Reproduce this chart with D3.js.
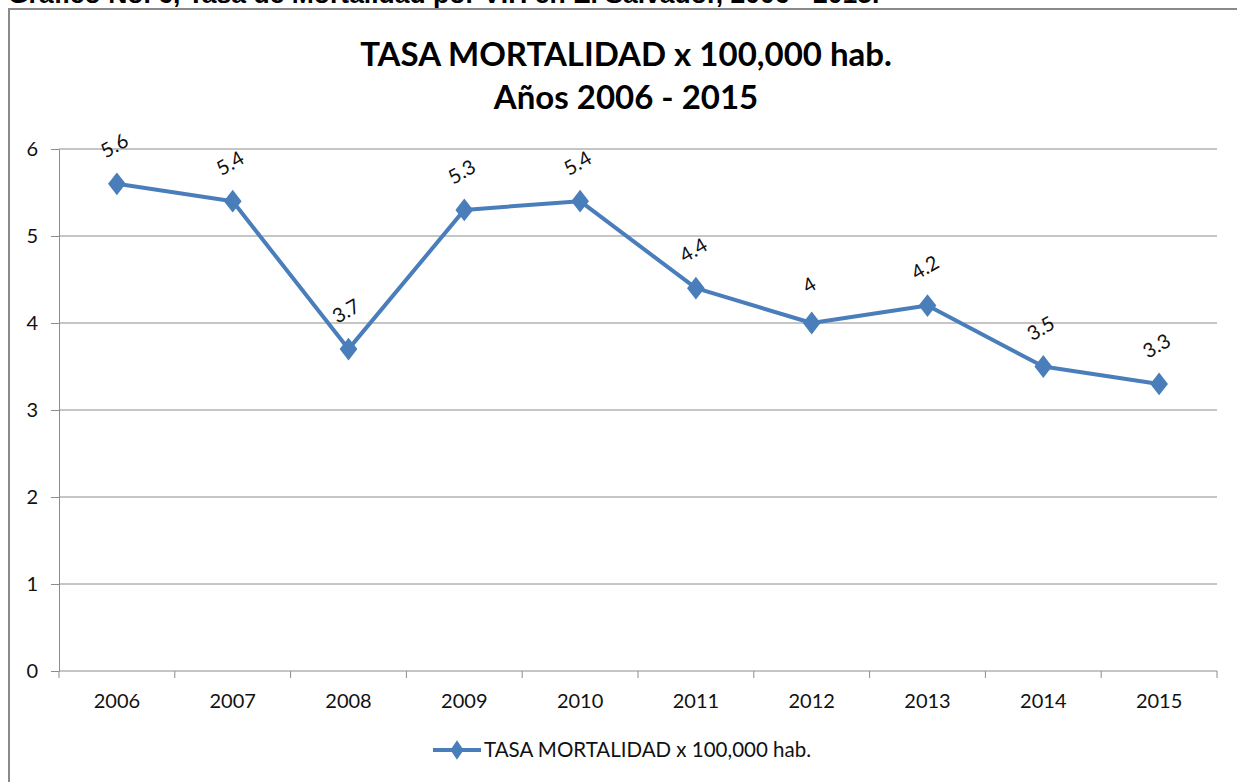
<!DOCTYPE html>
<meta charset="utf-8">
<html>
<head>
<script src="https://cdn.jsdelivr.net/npm/d3@7"></script>
<style>
  body { margin: 0; background: #fff; }
  text { font-family: Lato, "Open Sans", sans-serif; }
  text.caption { font-family: "Liberation Sans", Arial, sans-serif; }
</style>
</head>
<body>
<div id="chart"></div>
<script>
// data
var years = ["2006","2007","2008","2009","2010","2011","2012","2013","2014","2015"];
var rates = [5.6, 5.4, 3.7, 5.3, 5.4, 4.4, 4, 4.2, 3.5, 3.3];
var yTicks = [0, 1, 2, 3, 4, 5, 6];
var seriesName = "TASA MORTALIDAD x 100,000 hab.";

var W = 1237, H = 782;
var blue = "#4a7ebb", grid = "#8c8c8c";

var svg = d3.select("#chart").append("svg")
    .attr("width", W).attr("height", H);

// caption cut off at the top
svg.append("text")
    .attr("class", "caption")
    .attr("x", 8).attr("y", 3)
    .attr("font-weight", "bold").attr("font-size", 26.5)
    .text("Gráfico No. 6, Tasa de Mortalidad por VIH en El Salvador, 2006 - 2015.");

// chart border
svg.append("rect")
    .attr("x", 9).attr("y", 9)
    .attr("width", W + 20).attr("height", H + 20)
    .attr("fill", "none").attr("stroke", "#8a8a8a").attr("stroke-width", 2);

// title
var title = svg.append("g").attr("font-weight", "bold").attr("font-size", 33)
    .attr("text-anchor", "middle").attr("fill", "#000");
title.append("text").attr("x", 626).attr("y", 66).text("TASA MORTALIDAD x 100,000 hab.");
title.append("text").attr("x", 626).attr("y", 109).text("Años 2006 - 2015");

// scales
var pLeft = 59, pRight = 1217, pTop = 149, pBottom = 671;
var x = d3.scaleBand().domain(years).range([pLeft, pRight]);
var y = d3.scaleLinear().domain([0, 6]).range([pBottom, pTop]);

// y axis
var yAxis = svg.append("g").attr("transform", "translate(" + pLeft + ",0)")
    .call(d3.axisLeft(y).tickValues(yTicks).tickFormat(d3.format("d"))
        .tickSize(8).tickPadding(13).tickSizeOuter(0));
yAxis.select(".domain").attr("stroke", grid);
yAxis.selectAll(".tick line").attr("stroke", grid);
yAxis.selectAll(".tick text").attr("font-size", 20).attr("fill", "#111");
yAxis.attr("font-family", null);

// gridlines
svg.append("g").selectAll("line").data(yTicks.filter(function(d){ return d > 0; }))
    .enter().append("line")
    .attr("x1", pLeft).attr("x2", pRight)
    .attr("y1", function(d){ return y(d); }).attr("y2", function(d){ return y(d); })
    .attr("stroke", grid).attr("stroke-width", 1);

// x axis
var xa = svg.append("g").attr("transform", "translate(0," + pBottom + ")");
xa.append("line").attr("x1", pLeft).attr("x2", pRight).attr("stroke", grid);
var edges = years.map(function(d){ return x(d); }).concat([pRight]);
xa.selectAll("line.tk").data(edges).enter().append("line")
    .attr("class", "tk")
    .attr("x1", function(d){ return d; }).attr("x2", function(d){ return d; })
    .attr("y1", 0).attr("y2", 7).attr("stroke", grid);
xa.selectAll("text").data(years).enter().append("text")
    .attr("x", function(d){ return x(d) + x.bandwidth() / 2; })
    .attr("y", 37).attr("text-anchor", "middle")
    .attr("font-size", 20).attr("fill", "#111")
    .text(function(d){ return d; });

// line
var cx = function(i){ return x(years[i]) + x.bandwidth() / 2; };
var line = d3.line()
    .x(function(d, i){ return cx(i); })
    .y(function(d){ return y(d); });
svg.append("path").datum(rates)
    .attr("d", line).attr("fill", "none")
    .attr("stroke", blue).attr("stroke-width", 4).attr("stroke-linejoin", "round");

var diamond = d3.symbol().type(d3.symbolDiamond).size(150);
svg.append("g").selectAll("path").data(rates).enter().append("path")
    .attr("d", diamond)
    .attr("transform", function(d, i){ return "translate(" + cx(i) + "," + y(d) + ") scale(1.35,1)"; })
    .attr("fill", blue);

// rotated data labels
svg.append("g").selectAll("text").data(rates).enter().append("text")
    .attr("transform", function(d, i){
        return "translate(" + (cx(i) + 1) + "," + (y(d) - 32) + ") rotate(-30)";
    })
    .attr("text-anchor", "middle").attr("font-size", 20).attr("fill", "#111")
    .text(function(d){ return d; });

// legend
var lg = svg.append("g").attr("transform", "translate(433,750)");
lg.append("line").attr("x1", 0).attr("x2", 48).attr("stroke", blue).attr("stroke-width", 4);
lg.append("path").attr("d", diamond).attr("transform", "translate(24,0) scale(1.0,0.85)").attr("fill", blue);
lg.append("text").attr("x", 51).attr("y", 7).attr("font-size", 20.5).attr("fill", "#111")
    .text(seriesName);
</script>
</body>
</html>
